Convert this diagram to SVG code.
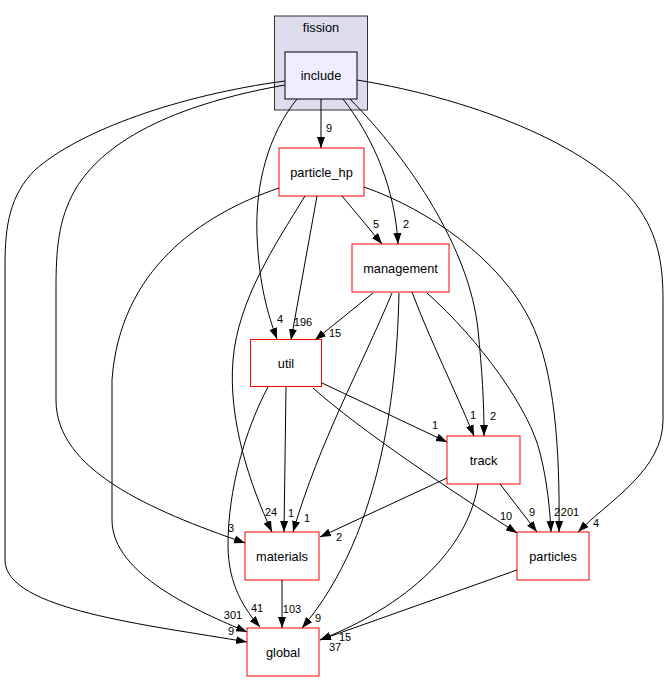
<svg xmlns="http://www.w3.org/2000/svg" width="669" height="681" viewBox="0 0 669 681">
<defs>
<style>
.n{fill:#ffffff;stroke:#ff0000;stroke-width:1}
.t{font-family:"Liberation Sans",Arial,sans-serif;font-size:12.8px;fill:#000;text-anchor:middle}
.e{fill:none;stroke:#000;stroke-width:1;marker-end:url(#ah)}
.l{font-family:"Liberation Sans",Arial,sans-serif;font-size:11px;fill:#000;text-anchor:middle}
</style>
<marker id="ah" markerWidth="11" markerHeight="9" refX="11" refY="4.5" orient="auto" markerUnits="userSpaceOnUse"><path d="M0,0.5 L11,4.5 L0,8.5 Z" fill="#000"/></marker>
</defs>
<rect width="669" height="681" fill="#fff"/>
<g id="cluster_fission">
<rect x="274.5" y="16" width="93" height="94" fill="#ddddee" stroke="#333"/>
<text class="t" x="321" y="32">fission</text>
</g>
<g id="include">
<rect x="285" y="52" width="72" height="47" fill="#eeeeff" stroke="#000"/>
<text class="t" x="321" y="80">include</text>
</g>
<g id="particle_hp"><rect class="n" x="279" y="148" width="85" height="48"/><text class="t" x="321.5" y="176.5">particle_hp</text></g>
<g id="management"><rect class="n" x="352" y="244" width="97" height="48"/><text class="t" x="400.5" y="272.5">management</text></g>
<g id="util"><rect class="n" x="250.5" y="339.5" width="71" height="47"/><text class="t" x="286" y="367.5">util</text></g>
<g id="track"><rect class="n" x="447" y="436" width="73" height="48"/><text class="t" x="483.5" y="464.5">track</text></g>
<g id="materials"><rect class="n" x="245" y="532" width="74" height="48"/><text class="t" x="282" y="560.5">materials</text></g>
<g id="particles"><rect class="n" x="517" y="532" width="72" height="48"/><text class="t" x="553" y="560.5">particles</text></g>
<g id="global"><rect class="n" x="247" y="628" width="72" height="48"/><text class="t" x="283" y="656.5">global</text></g>
<g id="edges">
<path class="e" d="M321,99 L321,148"/>
<path class="e" d="M343,99 C375,140 395,190 398,244"/>
<path class="e" d="M350,99 C410,160 470,250 478,330 C482,370 484,400 484,436"/>
<path class="e" d="M297,99 C268,135 255,185 257,235 C259,285 268,315 277,339"/>
<path class="e" d="M285,85 C200,100 110,130 75,190 C58,220 56,250 56,290 L56,400 C56,470 150,510 245,543"/>
<path class="e" d="M285,81 C180,95 80,130 35,170 C10,195 5,225 5,265 L5,560 C5,610 150,625 247,642"/>
<path class="e" d="M357,80 C480,100 600,150 640,210 C660,240 663,270 663,300 L663,420 C663,470 610,500 578,532"/>
<path class="e" d="M342,196 L382,244"/>
<path class="e" d="M317,196 L291,340"/>
<path class="e" d="M305,196 C275,245 238,300 233,360 C228,420 250,485 272,532"/>
<path class="e" d="M279,188 C200,215 120,270 112,380 L112,520 C112,575 200,612 247,632"/>
<path class="e" d="M364,187 C430,210 500,260 530,320 C555,370 560,450 559,532"/>
<path class="e" d="M373,293 L315,340"/>
<path class="e" d="M392,293 C360,370 320,440 293,532"/>
<path class="e" d="M399,293 C397,380 385,530 302,628"/>
<path class="e" d="M412,292 C430,340 455,390 474,436"/>
<path class="e" d="M427,293 C480,340 530,410 540,453 C547,480 550,510 551,532"/>
<path class="e" d="M322,383 L447,442"/>
<path class="e" d="M313,388 C360,430 450,490 517,533"/>
<path class="e" d="M286,387 L284,532"/>
<path class="e" d="M268,387 C245,430 228,490 228,545 C228,585 245,610 260,627"/>
<path class="e" d="M447,478 L320,537"/>
<path class="e" d="M500,484 L537,532"/>
<path class="e" d="M478,484 C470,540 420,600 320,640"/>
<path class="e" d="M517,570 L320,640"/>
<path class="e" d="M282,580 L282,628"/>
</g>
<g id="labels">
<text class="l" x="329" y="132">9</text>
<text class="l" x="406" y="228">2</text>
<text class="l" x="376" y="228">5</text>
<text class="l" x="493" y="420">2</text>
<text class="l" x="280" y="323">4</text>
<text class="l" x="303" y="326">196</text>
<text class="l" x="335" y="337">15</text>
<text class="l" x="473" y="419">1</text>
<text class="l" x="435" y="429">1</text>
<text class="l" x="231" y="532">3</text>
<text class="l" x="271" y="516">24</text>
<text class="l" x="291" y="517">1</text>
<text class="l" x="307" y="522">1</text>
<text class="l" x="339" y="541">2</text>
<text class="l" x="506" y="520">10</text>
<text class="l" x="532" y="516">9</text>
<text class="l" x="557" y="516">2</text>
<text class="l" x="570" y="516">201</text>
<text class="l" x="596" y="527">4</text>
<text class="l" x="233" y="619">301</text>
<text class="l" x="231" y="635">9</text>
<text class="l" x="257" y="612">41</text>
<text class="l" x="292" y="613">103</text>
<text class="l" x="318" y="622">9</text>
<text class="l" x="345" y="641">15</text>
<text class="l" x="335" y="651">37</text>
</g>
</svg>
